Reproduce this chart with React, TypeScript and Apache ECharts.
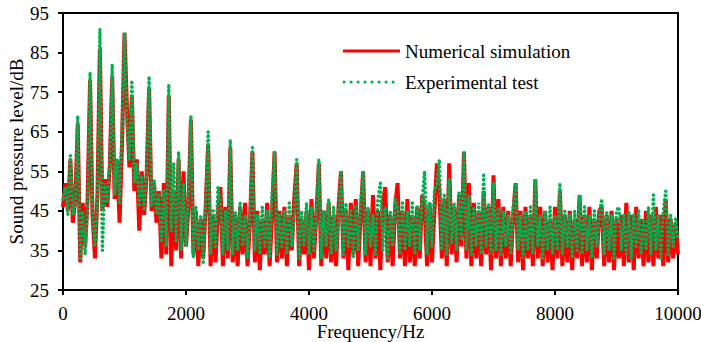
import React, { useEffect, useRef } from "react";
import * as echarts from "echarts";

// Spectrum sampled every FREQ_STEP_HZ from 0 to 10000 Hz
const FREQ_STEP_HZ = 40;

const seriesNames = ["Numerical simulation", "Experimental test"];

// Numerical simulation, dB
const simulation = [
  46, 52, 45, 58, 42, 48, 67, 32, 47, 36,
  48, 78, 44, 33, 49, 86, 45, 53, 46, 56,
  79, 48, 58, 42, 62, 90, 71, 56, 74, 50,
  58, 40, 55, 44, 54, 76, 45, 52, 42, 50,
  33, 52, 34, 74, 31, 50, 35, 58, 33, 55,
  36, 46, 68, 34, 45, 31, 43, 33, 46, 62,
  31, 44, 32, 45, 51, 31, 46, 33, 61, 32,
  44, 31, 46, 34, 47, 31, 42, 60, 32, 45,
  30, 43, 34, 47, 31, 44, 60, 32, 45, 33,
  46, 31, 44, 35, 48, 57, 31, 43, 34, 45,
  30, 48, 33, 44, 57, 31, 45, 33, 47, 32,
  44, 31, 46, 55, 33, 45, 30, 47, 34, 48,
  31, 44, 55, 32, 45, 31, 49, 33, 45, 30,
  47, 51, 32, 44, 31, 46, 52, 33, 45, 31,
  48, 32, 44, 31, 46, 33, 49, 46, 31, 47,
  32, 45, 57, 50, 33, 48, 31, 57, 34, 46,
  32, 49, 36, 60, 33, 52, 31, 47, 33, 45,
  31, 50, 34, 46, 30, 54, 33, 48, 31, 46,
  33, 45, 31, 44, 52, 32, 45, 30, 46, 33,
  44, 31, 53, 33, 46, 31, 45, 32, 43, 30,
  46, 33, 50, 31, 44, 32, 45, 30, 43, 33,
  49, 31, 44, 32, 46, 30, 43, 33, 45, 46,
  31, 44, 32, 45, 30, 43, 33, 44, 31, 47,
  32, 44, 30, 46, 33, 43, 31, 45, 32, 44,
  31, 46, 33, 44, 31, 48, 32, 43, 33, 42, 34,
];

// Experimental test, dB
const experiment = [
  48, 51, 44, 59, 44, 47, 69, 33, 45, 34,
  46, 80, 44, 36, 47, 91, 35, 52, 47, 57,
  82, 49, 58, 47, 66, 90, 67, 58, 78, 52,
  57, 46, 54, 45, 55, 79, 46, 53, 44, 49,
  37, 50, 36, 77, 40, 57, 37, 60, 35, 52,
  36, 48, 69, 33, 46, 35, 44, 32, 47, 65,
  34, 45, 36, 51, 47, 34, 45, 35, 63, 34,
  45, 35, 47, 36, 44, 33, 43, 61, 35, 44,
  34, 46, 36, 45, 33, 50, 60, 34, 44, 36,
  45, 34, 47, 36, 44, 58, 33, 45, 36, 47,
  34, 46, 35, 44, 58, 33, 45, 36, 48, 34,
  46, 35, 43, 55, 34, 47, 36, 45, 33, 46,
  35, 47, 55, 34, 46, 36, 44, 34, 48, 52,
  35, 46, 33, 45, 36, 48, 46, 34, 47, 35,
  45, 36, 47, 34, 46, 35, 48, 55, 34, 47,
  36, 50, 52, 58, 35, 49, 34, 53, 37, 47,
  35, 50, 38, 60, 35, 49, 34, 46, 36, 47,
  34, 54, 36, 47, 34, 52, 35, 46, 34, 45,
  36, 44, 34, 46, 52, 35, 44, 33, 45, 35,
  46, 34, 53, 36, 44, 33, 45, 35, 46, 34,
  44, 35, 52, 34, 45, 36, 44, 33, 45, 35,
  49, 34, 46, 35, 44, 33, 45, 36, 44, 48,
  34, 45, 35, 44, 33, 45, 46, 35, 44, 34,
  45, 33, 44, 36, 45, 34, 43, 35, 46, 34,
  49, 35, 44, 33, 45, 50, 34, 44, 36, 43, 38,
];

const FONT = "'Liberation Serif', 'Times New Roman', serif";
const RED = "#FF0000";
const GREEN = "#00B050";

const toPairs = (vals: number[]) => vals.map((v, i) => [i * FREQ_STEP_HZ, v]);

export default function App() {
  const ref = useRef<HTMLDivElement>(null);

  useEffect(() => {
    if (!ref.current) return;
    const chart = echarts.init(ref.current, undefined, { renderer: "svg" });
    const axisCommon = {
      nameLocation: "middle" as const,
      nameMoveOverlap: false,
      nameTextStyle: { fontSize: 19, color: "#000", fontFamily: FONT },
      axisLine: { show: true, lineStyle: { color: "#000", width: 2 } },
      axisTick: { show: true, inside: false, length: 5, lineStyle: { color: "#000", width: 2 } },
      axisLabel: { fontSize: 19, color: "#000", fontFamily: FONT, formatter: (v: number) => String(v) },
      splitLine: { show: false },
    };
    chart.setOption({
      animation: false,
      textStyle: { fontFamily: FONT },
      grid: {
        left: 63,
        right: 23,
        top: 13,
        bottom: 52,
        containLabel: false,
        outerBoundsMode: "none",
        show: true,
        borderColor: "#000",
        borderWidth: 2,
        backgroundColor: "transparent",
      },
      xAxis: {
        type: "value",
        min: 0,
        max: 10000,
        interval: 2000,
        name: "Frequency/Hz",
        nameGap: 32,
        ...axisCommon,
        axisLabel: { ...axisCommon.axisLabel, margin: 14 },
      },
      yAxis: {
        type: "value",
        min: 25,
        max: 95,
        interval: 10,
        name: "Sound pressure level/dB",
        nameGap: 37,
        ...axisCommon,
        axisLabel: { ...axisCommon.axisLabel, margin: 14 },
      },
      graphic: [
        {
          type: "line",
          shape: { x1: 343, y1: 51, x2: 400, y2: 51 },
          style: { stroke: RED, lineWidth: 3 },
        },
        {
          type: "text",
          x: 405,
          y: 51,
          style: {
            text: seriesNames[0],
            font: `19px ${FONT}`,
            fill: "#000",
            verticalAlign: "middle",
          },
        },
        {
          type: "line",
          shape: { x1: 344, y1: 82, x2: 400, y2: 82 },
          style: { stroke: GREEN, lineWidth: 3, lineDash: [0.1, 6.9], lineCap: "round" },
        },
        {
          type: "text",
          x: 405,
          y: 82,
          style: {
            text: seriesNames[1],
            font: `19px ${FONT}`,
            fill: "#000",
            verticalAlign: "middle",
          },
        },
      ],
      series: [
        {
          name: seriesNames[0],
          type: "line",
          data: toPairs(simulation),
          symbol: "none",
          showSymbol: false,
          lineStyle: { color: RED, width: 4 },
          itemStyle: { color: RED },
          z: 2,
        },
        {
          name: seriesNames[1],
          type: "line",
          data: toPairs(experiment),
          symbol: "none",
          showSymbol: false,
          lineStyle: { color: GREEN, width: 3.5, type: [0.1, 4.4], cap: "round" },
          itemStyle: { color: GREEN },
          z: 3,
        },
      ],
    });
    return () => chart.dispose();
  }, []);

  return (
    <div
      ref={ref}
      style={{ position: "fixed", left: 0, top: 0, width: 701, height: 342, background: "#fff" }}
    />
  );
}
